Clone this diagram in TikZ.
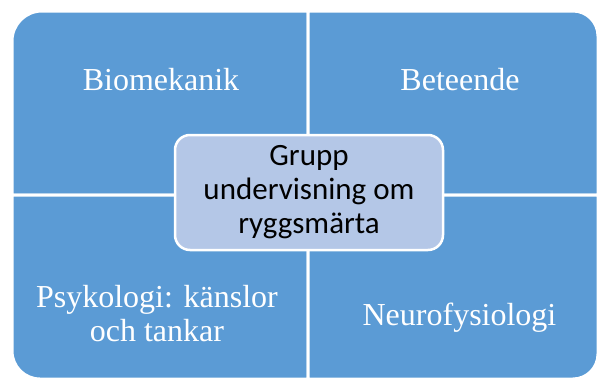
\documentclass[tikz,border=0pt]{standalone}
\usepackage{fontspec}
\setmainfont{Liberation Serif}
\newfontfamily\calibri{Carlito}
\definecolor{quadblue}{HTML}{5B9BD5}
\definecolor{hubfill}{HTML}{B4C7E7}
\begin{document}
\begin{tikzpicture}[x=1pt,y=-1pt,
  quadrant/.style={fill=quadblue,draw=white,line width=3pt},
  qlabel/.style={text=white,font=\fontsize{32}{34}\selectfont,align=center,inner sep=0pt},
  hub/.style={draw=white,line width=2.5pt,fill=hubfill,rounded corners=15pt,
    minimum width=268pt,minimum height=115pt,align=center,inner sep=0pt,
    font=\calibri\fontsize{31}{34}\selectfont,text=black}]
\useasboundingbox (0,0) rectangle (598,380);
% quadrants
\path[quadrant] (12,195) [rounded corners=30pt] -- (12,11) [sharp corners] -- (308,11) -- (308,195) -- cycle;
\path[quadrant] (308,11) [rounded corners=25pt] -- (598,11) [sharp corners] -- (598,195) -- (308,195) -- cycle;
\path[quadrant] (12,195) -- (308,195) -- (308,379) [rounded corners=28pt] -- (12,379) [sharp corners] -- cycle;
\path[quadrant] (308,195) -- (598,195) [rounded corners=25pt] -- (598,379) [sharp corners] -- (308,379) -- cycle;
% labels
\node[qlabel,anchor=base] (bio) at (161,90) {Biomekanik};
\node[qlabel,anchor=base] (bet) at (460,90) {Beteende};
\node[qlabel,anchor=base] (neu) at (459.5,325) {Neurofysiologi};
\node[qlabel] (psy) at (157,314) {Psykologi: känslor\\och tankar};
% hub
\node[hub] (center) at (309,192.5) {Grupp\\undervisning om\\ryggsmärta};
\end{tikzpicture}
\end{document}
